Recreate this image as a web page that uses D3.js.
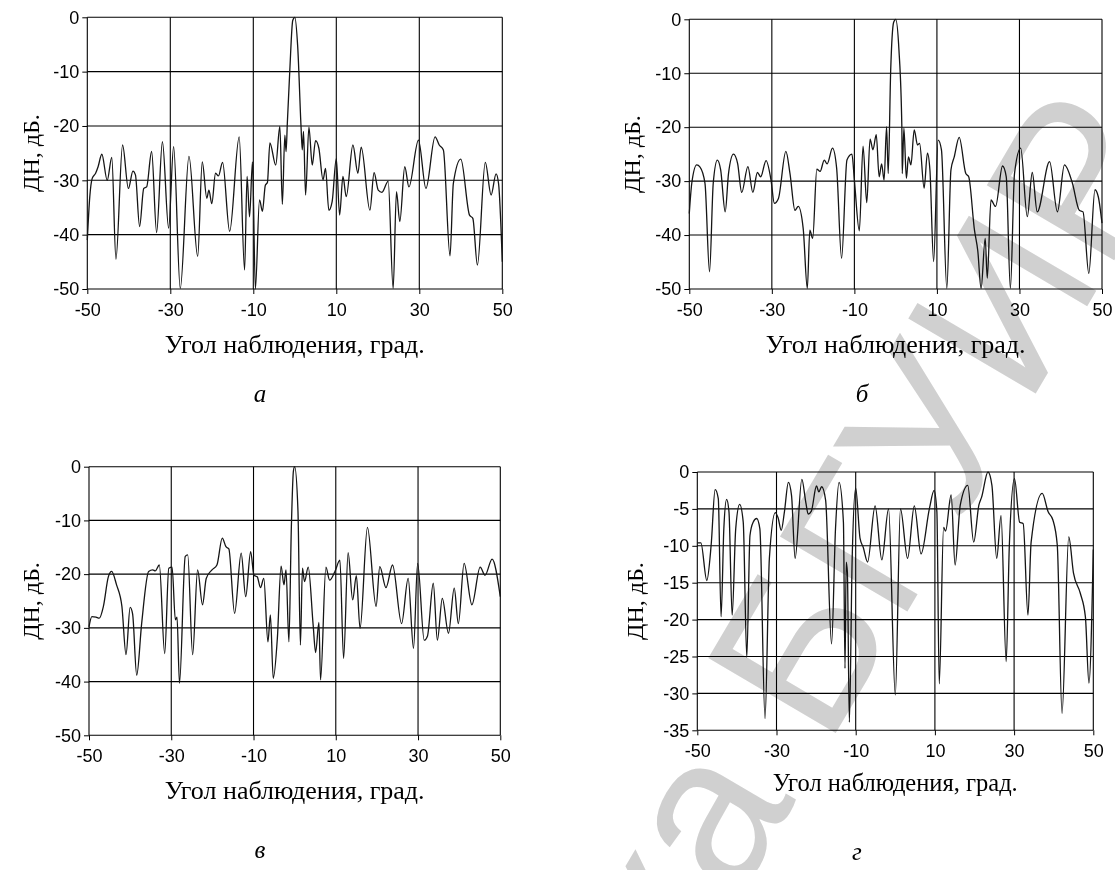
<!DOCTYPE html>
<html>
<head>
<meta charset="utf-8">
<script src="https://cdn.jsdelivr.net/npm/d3@7"></script>
<style>
  html, body { margin: 0; padding: 0; background: #fff; }
  svg { display: block; }
  .tick text { font-family: "Liberation Sans", Arial, sans-serif; font-size: 18px; fill: #000; }
  .tick line { stroke: #000; stroke-width: 1; }
  .domain { display: none; }
  .serif { font-family: "Liberation Serif", "Times New Roman", serif; fill: #000; }
</style>
</head>
<body>
<script>
// Radiation patterns, angle in degrees and level in dB
const anglesA = [-50, -49.4, -48.8, -48, -47.4, -46.5, -45.2, -44.1, -43.1, -41.5, -40.1, -39, -38.4, -37.4, -36.4, -35.7, -34.5, -33.3, -31.9, -30.4, -29.2, -27.6, -25.5, -23.4, -22.3, -21.2, -20.7, -20, -19.1, -18.4, -17.4, -15.7, -13.4, -12.1, -11.5, -10.9, -10.2, -9.5, -8.5, -7.8, -7.1, -6.6, -6, -4.6, -3.6, -3, -2.4, -2.1, -1.8, -1.2, -0.5, 0, 0.7, 1.5, 1.8, 2.1, 2.6, 3.4, 4.2, 5, 5.8, 6.8, 7.4, 8.2, 9, 10, 10.8, 11.6, 12.4, 14, 15.2, 16, 18.1, 19.1, 20.1, 21, 22.5, 23.7, 24.5, 25.3, 26.5, 27.5, 29.8, 31.6, 33.8, 34.8, 35.8, 37.4, 38.2, 40, 42.1, 42.9, 44, 45.9, 47.3, 48.5, 49.1, 50];
const levelsA = [-41, -33, -29.6, -28.7, -27.5, -25.2, -30, -25.8, -44.5, -23.5, -31.5, -28.3, -29, -38.5, -31.5, -31.2, -24.7, -39.6, -22.9, -38.8, -23.8, -49.9, -25.6, -44, -26.6, -33.3, -31.8, -34.3, -28.7, -29.2, -26.7, -39.4, -22, -46.5, -29.3, -36.7, -26.6, -50, -33.6, -35.7, -30.9, -30.4, -23.1, -27.2, -20.1, -34.4, -21.7, -24.7, -19.5, -9.7, -0.6, 0, -5.4, -20.1, -24.4, -21, -32.7, -20.2, -27.2, -22.7, -24.1, -29.9, -27.8, -35.5, -33.9, -26, -36.4, -29.3, -33, -23.5, -28.7, -23.9, -35.5, -28.6, -31.8, -32.2, -30.2, -49.9, -32.1, -37.6, -27.5, -31.2, -22.6, -31.5, -22, -23.5, -24.4, -43.9, -30.6, -26.1, -36.4, -37, -45.6, -26.7, -32.7, -28.8, -30.6, -45];

const anglesB = [-50, -49.4, -48.2, -47.4, -46.2, -45.1, -44.2, -43.2, -42.4, -41.3, -40.5, -39.3, -38.3, -37.3, -35.8, -34.6, -33.5, -32.7, -31.4, -30.2, -29.4, -28.4, -26.6, -25.6, -24.4, -23.6, -22.4, -21.4, -20.8, -20.1, -19.1, -18.3, -17.3, -16.6, -15.3, -14.3, -13.1, -11.8, -10.6, -10, -8.8, -7.9, -7, -6.2, -5.5, -4.7, -4, -3.4, -2.8, -2.2, -1.8, -1.2, -0.5, 0, 0.8, 1.5, 1.6, 2, 2.6, 3.1, 3.7, 4.5, 5.3, 5.8, 6.9, 7.7, 8.3, 9.2, 10.3, 11.1, 12.4, 13.4, 14.2, 15.4, 17, 17.7, 19.1, 19.9, 20.7, 21.7, 22.2, 23.1, 24.2, 25.9, 26.8, 27.8, 28.8, 30.3, 31.9, 33.1, 34.3, 37.3, 39.2, 40.9, 42.8, 44.5, 45.4, 46.8, 48.3, 49.1, 50];
const levelsB = [-36, -30.4, -27, -27.4, -30.4, -46.8, -30.4, -26.1, -27.9, -35.7, -28.6, -25, -26.7, -32.1, -27.3, -32.1, -28.4, -29.2, -26.2, -29.8, -34.1, -33.2, -24.5, -28.6, -35.4, -34.7, -38.8, -49.9, -39.1, -40.6, -27.8, -28.2, -26.1, -26.8, -23.9, -27.6, -44.3, -26.1, -25, -29.8, -39.2, -23.5, -34, -22.2, -24.2, -21.4, -29.2, -26.8, -29.8, -19.9, -28.6, -9.4, -0.6, 0, -5.7, -19.9, -28.6, -20.2, -29.5, -25.5, -27, -20.5, -23.3, -23, -31.3, -24.8, -27.9, -44.9, -22.4, -24.2, -49.9, -27.9, -25.5, -21.9, -28.6, -29.2, -39.1, -42.9, -49.9, -40.6, -48, -33.5, -34.7, -27.2, -29.2, -49.9, -28.6, -23.9, -36.6, -28.4, -35.7, -26.4, -35.7, -27, -30.3, -35.4, -35.7, -47.1, -31.6, -32.9, -37.8];

const anglesC = [-50, -49.3, -48.3, -47.5, -46.5, -45.3, -44.5, -43.3, -42, -41, -40, -39.4, -38.4, -37.2, -35.5, -34.5, -33.9, -32.9, -31.6, -30.6, -29.8, -29, -28.6, -28, -26.6, -26, -24.8, -23.6, -22.4, -21.5, -20.1, -18.9, -17.6, -16.7, -16, -14.6, -13, -11.9, -10.7, -9.9, -9.1, -8.3, -7.5, -6.5, -5.9, -5.2, -4.2, -3.3, -2.6, -2.1, -1.4, -0.8, -0.3, 0, 0.8, 1.4, 1.9, 2.4, 3.3, 4.5, 5.1, 5.9, 6.3, 7.6, 8.5, 9.8, 11, 11.9, 13, 14.1, 15, 15.9, 17.7, 19.8, 20.7, 22.2, 23.8, 26, 27.6, 28.9, 29.9, 31.5, 32.3, 33.7, 34.7, 35.9, 37.4, 38.8, 39.8, 41.2, 43.1, 45.1, 46.3, 48, 50];
const levelsC = [-29.8, -27.9, -28, -28.2, -26, -20.5, -19.5, -22, -26, -35, -26.2, -27.4, -38.8, -29.2, -19.5, -19.2, -19.4, -18.3, -34.8, -18.9, -18.7, -28.5, -28, -40.3, -16.7, -16.4, -35, -19.2, -25.7, -20.8, -19.2, -18.3, -13.3, -14.9, -15.3, -27.3, -16.1, -24.2, -15.8, -20.2, -20.5, -22.5, -20.8, -32.6, -27.6, -39.4, -31.9, -18.5, -22, -19.2, -32.6, -11.2, -0.8, 0, -8.1, -33.2, -18.9, -21.4, -18.7, -29.5, -34.6, -29, -39.7, -18.7, -21.1, -19.5, -17.4, -35.7, -16, -24.8, -20.3, -30.1, -11.3, -26, -18.6, -22.5, -18.3, -29.2, -20.8, -33.8, -18, -32.3, -31.5, -21.7, -32.3, -24.5, -31, -22.6, -29.2, -18, -25.7, -18.7, -20.2, -17.2, -24.2];

const anglesD = [-50, -49.1, -47.6, -46.5, -45.5, -44.7, -44, -43.3, -42.6, -42, -41.2, -40.3, -39.3, -38.4, -37.5, -36.7, -35.9, -35, -34.2, -32.9, -31.8, -30.3, -29.6, -28.8, -28, -27, -26.2, -25.3, -23.6, -22.6, -22, -21.2, -19.9, -19.3, -18.6, -17.6, -16.1, -15.1, -14.2, -13.1, -12.7, -12.4, -12.1, -11.6, -10.9, -10, -8.9, -8.1, -7, -5.1, -3.4, -1.7, 0, 1.3, 3.1, 4.8, 6.5, 8.6, 9.8, 10.5, 11.1, 12.2, 12.7, 14.1, 15.1, 16.4, 18.3, 19.8, 21.1, 21.8, 23.4, 24.4, 25.6, 26.7, 28, 28.8, 30.1, 31.4, 32.3, 33.5, 34.3, 37.1, 38.6, 39.8, 40.9, 42.1, 43.8, 45, 46.7, 48, 48.9, 50];
const levelsD = [-9.6, -9.6, -14.7, -9.9, -2.4, -3.6, -19.6, -7.7, -3.7, -5.4, -19.4, -7.7, -4.4, -6.8, -25.1, -8.6, -6.8, -6.3, -7.7, -33.4, -11.7, -5.5, -6.2, -7.9, -5.4, -1.4, -3.2, -11.7, -1, -4.1, -5.7, -5.3, -1.9, -2.7, -2, -3.8, -23.3, -7.7, -1.4, -6.8, -26.6, -12.2, -13.6, -33.9, -12, -2.2, -9, -10.2, -12.2, -4.6, -11.9, -5, -30.2, -5, -11.7, -4.6, -11.1, -5, -2.5, -5.4, -28.7, -7.5, -8, -3.1, -12.6, -4.5, -1.8, -9.5, -4.5, -3.4, 0, -1.8, -11.7, -5.9, -25.7, -9.9, -0.9, -6.8, -7, -19.4, -9.5, -2.9, -5.4, -6.5, -9.9, -32.7, -8.8, -13.7, -16.4, -19.6, -28.6, -10.5];

// Axis ticks
const angleTicks = [-50, -30, -10, 10, 30, 50];
const levelTicks50 = [0, -10, -20, -30, -40, -50];
const levelTicks35 = [0, -5, -10, -15, -20, -25, -30, -35];

const xTitle = "Угол наблюдения, град.";
const yTitle = "ДН, дБ.";
const panelLetters = ["а", "б", "в", "г"];

const W = 1115, H = 870;
const svg = d3.select("body").append("svg").attr("width", W).attr("height", H);

const panels = [
  { angles: anglesA, levels: levelsA, ticks: levelTicks50, yMin: -50, letter: panelLetters[0],
    box: [87.3, 502.3, 17.3, 289], yLabelX: 31, titleDy: 64, titleSize: 26, letterPos: [260, 402] },
  { angles: anglesB, levels: levelsB, ticks: levelTicks50, yMin: -50, letter: panelLetters[1],
    box: [689.3, 1102, 19.3, 289], yLabelX: 632, titleDy: 64, titleSize: 26, letterPos: [862, 402] },
  { angles: anglesC, levels: levelsC, ticks: levelTicks50, yMin: -50, letter: panelLetters[2],
    box: [89, 500.3, 466.7, 735.3], yLabelX: 31, titleDy: 64, titleSize: 26, letterPos: [260, 858] },
  { angles: anglesD, levels: levelsD, ticks: levelTicks35, yMin: -35, letter: panelLetters[3],
    box: [697.3, 1093.3, 472, 730.3], yLabelX: 635, titleDy: 61, titleSize: 24.5, letterPos: [857, 860] }
];

panels.forEach(p => {
  const [x0, x1, y0, y1] = p.box;
  const x = d3.scaleLinear().domain([-50, 50]).range([x0, x1]);
  const y = d3.scaleLinear().domain([p.yMin, 0]).range([y1, y0]);
  const g = svg.append("g");

  // grid
  g.append("g").selectAll("line").data(p.ticks).join("line")
    .attr("x1", x0).attr("x2", x1)
    .attr("y1", d => y(d)).attr("y2", d => y(d))
    .attr("stroke", "#000").attr("stroke-width", 1.1);
  g.append("g").selectAll("line").data(angleTicks).join("line")
    .attr("x1", d => x(d)).attr("x2", d => x(d))
    .attr("y1", y0).attr("y2", y1)
    .attr("stroke", "#000").attr("stroke-width", 1.1);

  // axes
  g.append("g").attr("transform", `translate(${x0},0)`)
    .call(d3.axisLeft(y).tickValues(p.ticks).tickSize(5).tickPadding(3).tickFormat(d => String(d)));
  g.append("g").attr("transform", `translate(0,${y1})`)
    .call(d3.axisBottom(x).tickValues(angleTicks).tickSize(5).tickPadding(9).tickFormat(d => String(d)));

  // pattern curve
  const line = d3.line()
    .x((d, i) => x(p.angles[i]))
    .y(d => y(d))
    .curve(d3.curveMonotoneX);
  g.append("path").datum(p.levels)
    .attr("d", line)
    .attr("fill", "none")
    .attr("stroke", "#151515")
    .attr("stroke-width", 1.3)
    .attr("stroke-linejoin", "round");

  // titles
  g.append("text").attr("class", "serif")
    .attr("x", (x0 + x1) / 2).attr("y", y1 + p.titleDy)
    .attr("text-anchor", "middle").style("font-size", p.titleSize + "px")
    .text(xTitle);
  g.append("text").attr("class", "serif")
    .attr("transform", `translate(${p.yLabelX + 8},${(y0 + y1) / 2}) rotate(-90)`)
    .attr("text-anchor", "middle").style("font-size", "24px")
    .text(yTitle);
  g.append("text").attr("class", "serif")
    .attr("x", p.letterPos[0]).attr("y", p.letterPos[1])
    .attr("text-anchor", "middle").style("font-size", "25px").style("font-style", "italic")
    .text(p.letter);
});

// library stamp across the lower right
svg.append("text")
  .attr("transform", "translate(1178,152) rotate(-59.5)")
  .attr("text-anchor", "end")
  .style("font-family", "'Liberation Sans', Arial, sans-serif")
  .style("font-size", "215px")
  .style("fill", "#c8c8c8")
  .style("mix-blend-mode", "multiply")
  .style("opacity", 0.85)
  .text("Библиотека БГУИР");
</script>
</body>
</html>
